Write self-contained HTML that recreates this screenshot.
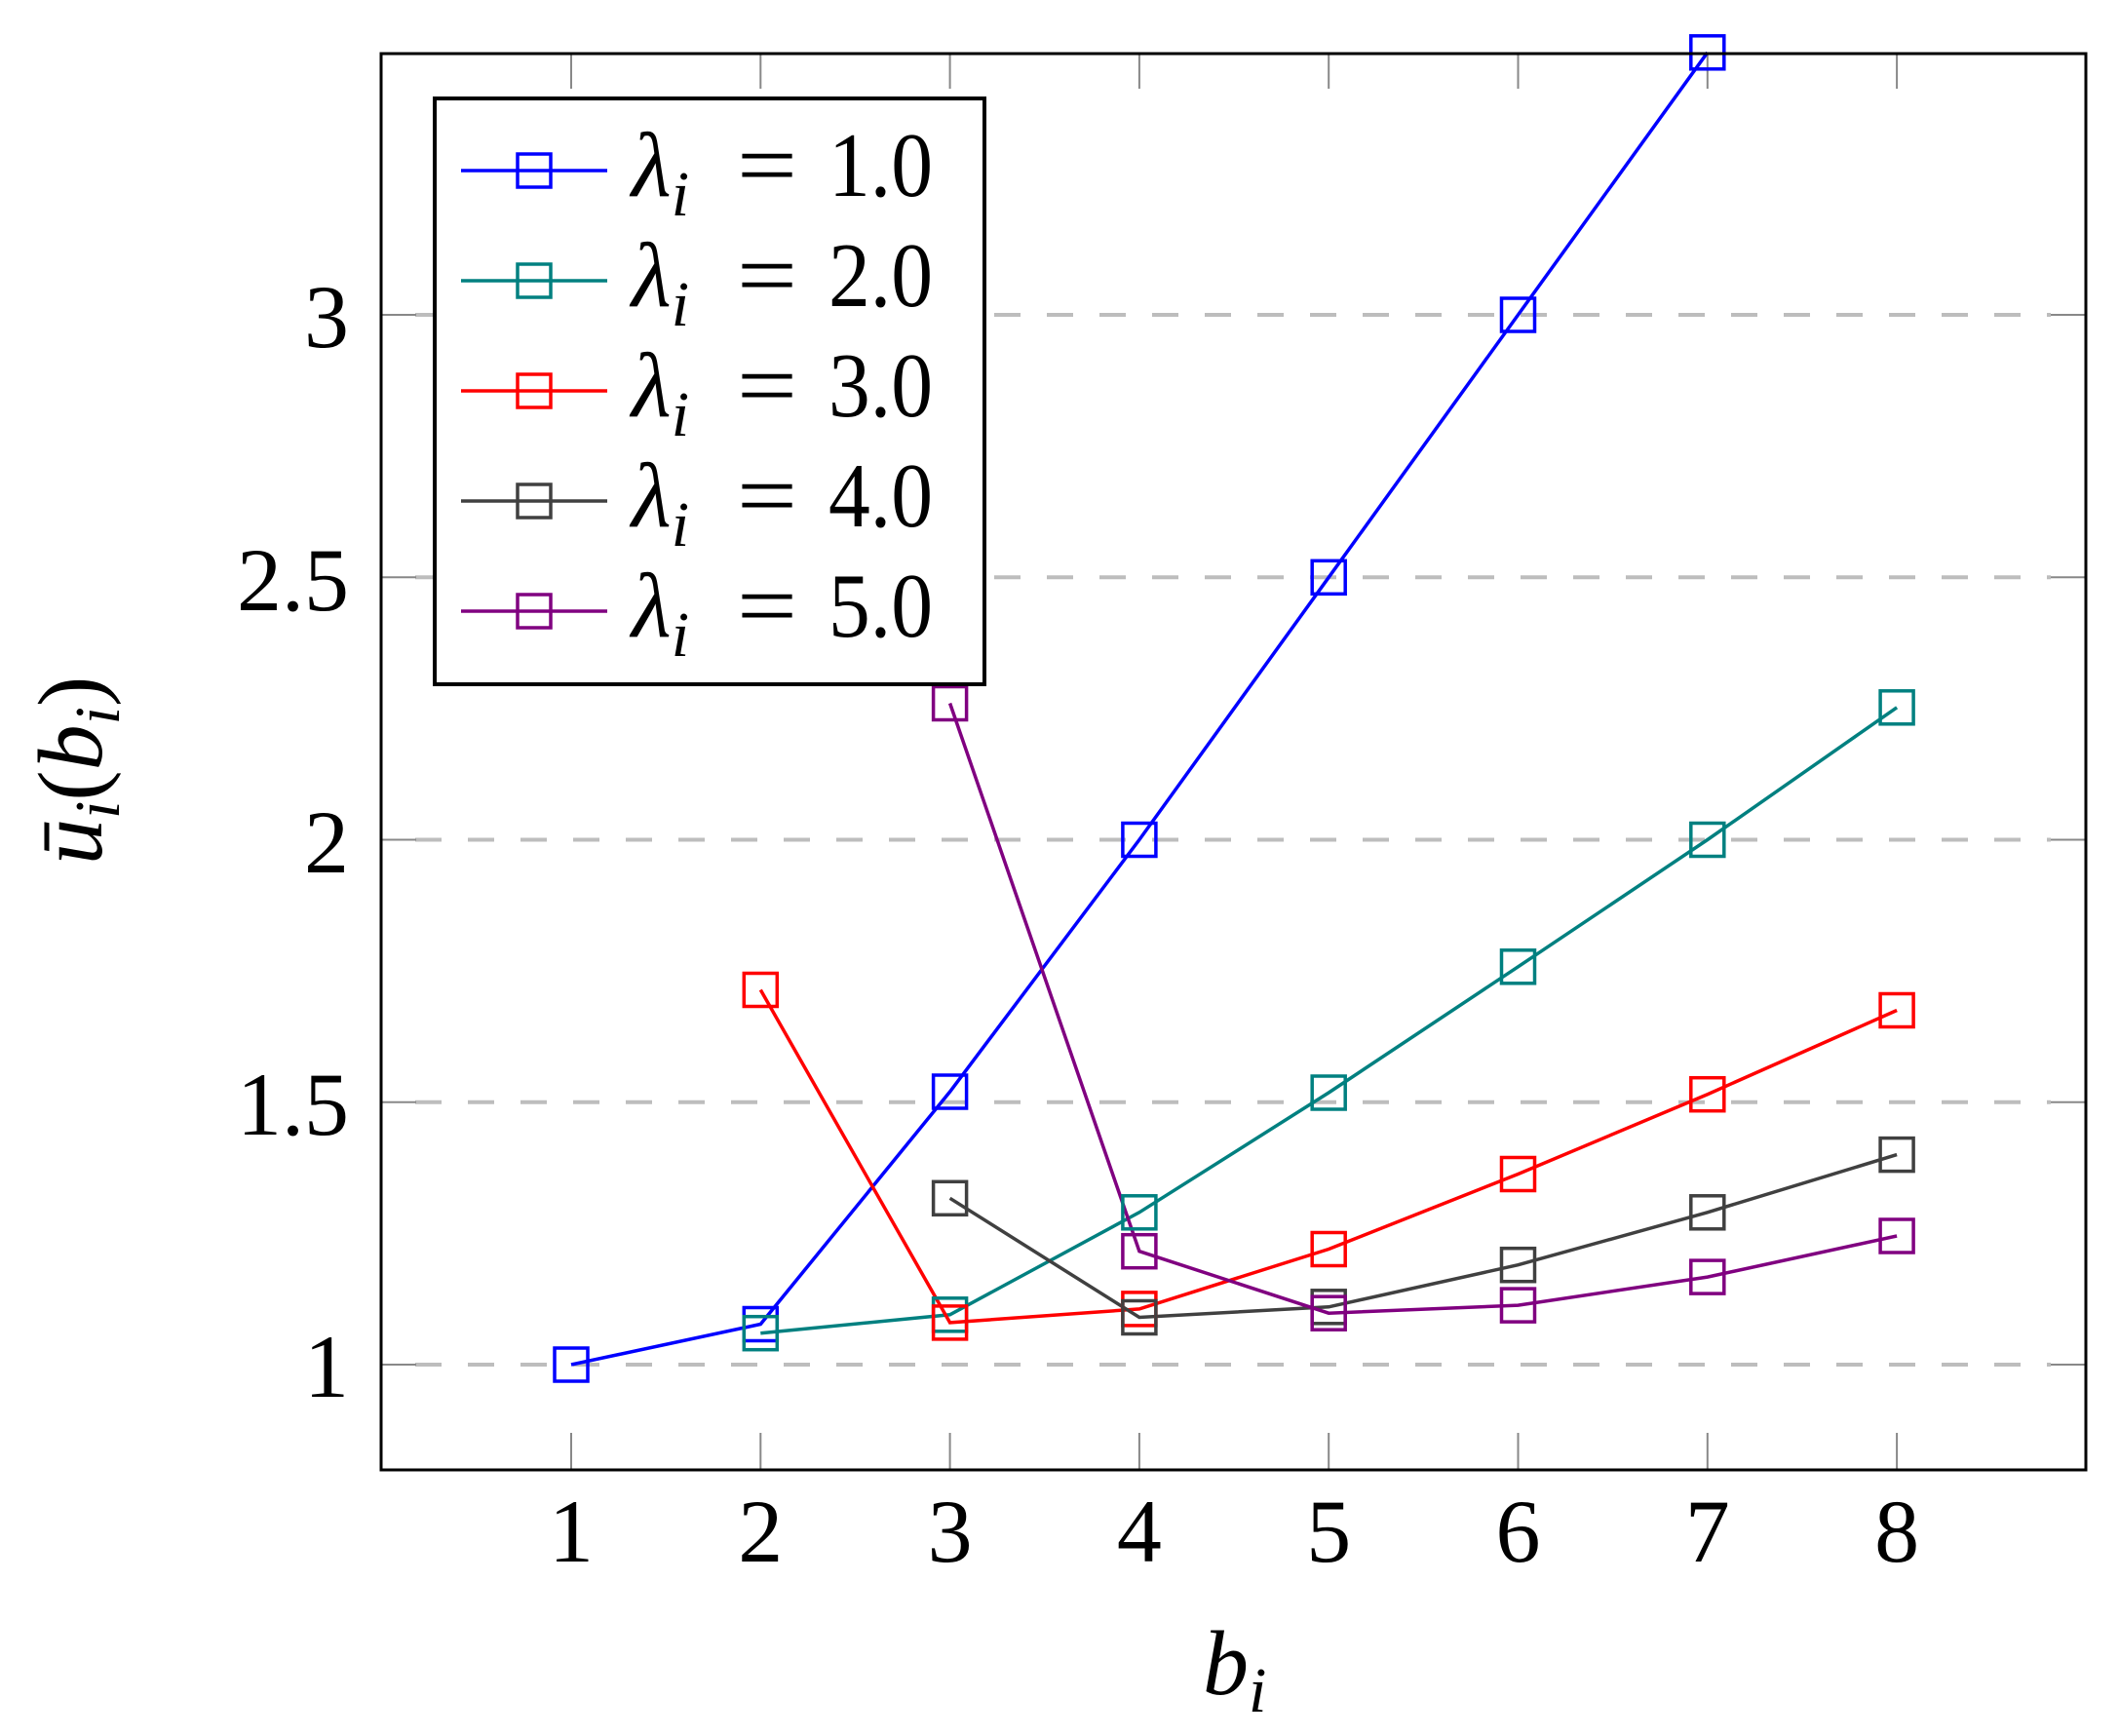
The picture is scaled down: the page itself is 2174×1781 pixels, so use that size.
<!DOCTYPE html>
<html><head><meta charset="utf-8"><style>html,body{margin:0;padding:0;background:#fff}svg{display:block}svg text{font-family:"Liberation Serif",serif}</style></head>
<body>
<svg width="2174" height="1781" viewBox="0 0 2174 1781" xmlns="http://www.w3.org/2000/svg" style="font-family:'Liberation Serif',serif">
<rect width="2174" height="1781" fill="#fff"/>
<g stroke="#bdbdbd" stroke-width="4" stroke-dasharray="27 27">
<line x1="426" y1="1400" x2="2104" y2="1400"/>
<line x1="426" y1="1130.8" x2="2104" y2="1130.8"/>
<line x1="426" y1="861.5" x2="2104" y2="861.5"/>
<line x1="426" y1="592.3" x2="2104" y2="592.3"/>
<line x1="426" y1="323" x2="2104" y2="323"/>
</g>
<g stroke="#888" stroke-width="2">
<line x1="391" y1="1400" x2="427" y2="1400"/><line x1="2104" y1="1400" x2="2140" y2="1400"/>
<line x1="391" y1="1130.8" x2="427" y2="1130.8"/><line x1="2104" y1="1130.8" x2="2140" y2="1130.8"/>
<line x1="391" y1="861.5" x2="427" y2="861.5"/><line x1="2104" y1="861.5" x2="2140" y2="861.5"/>
<line x1="391" y1="592.3" x2="427" y2="592.3"/><line x1="2104" y1="592.3" x2="2140" y2="592.3"/>
<line x1="391" y1="323" x2="427" y2="323"/><line x1="2104" y1="323" x2="2140" y2="323"/>
<line x1="586" y1="1470" x2="586" y2="1508"/><line x1="586" y1="55" x2="586" y2="91"/>
<line x1="780.3" y1="1470" x2="780.3" y2="1508"/><line x1="780.3" y1="55" x2="780.3" y2="91"/>
<line x1="974.6" y1="1470" x2="974.6" y2="1508"/><line x1="974.6" y1="55" x2="974.6" y2="91"/>
<line x1="1168.9" y1="1470" x2="1168.9" y2="1508"/><line x1="1168.9" y1="55" x2="1168.9" y2="91"/>
<line x1="1363.2" y1="1470" x2="1363.2" y2="1508"/><line x1="1363.2" y1="55" x2="1363.2" y2="91"/>
<line x1="1557.5" y1="1470" x2="1557.5" y2="1508"/><line x1="1557.5" y1="55" x2="1557.5" y2="91"/>
<line x1="1751.8" y1="1470" x2="1751.8" y2="1508"/><line x1="1751.8" y1="55" x2="1751.8" y2="91"/>
<line x1="1946.1" y1="1470" x2="1946.1" y2="1508"/><line x1="1946.1" y1="55" x2="1946.1" y2="91"/>
</g>
<g fill="none" stroke-width="3.5">
<polyline stroke="#0000ff" points="586,1400 780.3,1358.5 974.6,1120 1168.9,861.5 1363.2,592.3 1557.5,323 1751.8,53.8"/>
<polyline stroke="#008080" points="780.3,1367.7 974.6,1348.8 1168.9,1243.8 1363.2,1121 1557.5,991.8 1751.8,861.5 1946.1,725.8"/>
<polyline stroke="#ff0000" points="780.3,1015.5 974.6,1356.9 1168.9,1342.9 1363.2,1281.5 1557.5,1204.5 1751.8,1122.7 1946.1,1036.5"/>
<polyline stroke="#404040" points="974.6,1229.3 1168.9,1351.5 1363.2,1340.8 1557.5,1297.7 1751.8,1243.8 1946.1,1184.6"/>
<polyline stroke="#800080" points="974.6,721.5 1168.9,1283.7 1363.2,1347.2 1557.5,1339.1 1751.8,1310.1 1946.1,1268"/>
</g>
<g fill="none" stroke-width="3.5">
<g stroke="#0000ff">
<rect x="569" y="1383" width="34" height="34"/><rect x="763.3" y="1341.5" width="34" height="34"/><rect x="957.6" y="1103" width="34" height="34"/><rect x="1151.9" y="844.5" width="34" height="34"/><rect x="1346.2" y="575.3" width="34" height="34"/><rect x="1540.5" y="306" width="34" height="34"/><rect x="1734.8" y="36.8" width="34" height="34"/>
</g>
<g stroke="#008080">
<rect x="763.3" y="1350.7" width="34" height="34"/><rect x="957.6" y="1331.8" width="34" height="34"/><rect x="1151.9" y="1226.8" width="34" height="34"/><rect x="1346.2" y="1104" width="34" height="34"/><rect x="1540.5" y="974.8" width="34" height="34"/><rect x="1734.8" y="844.5" width="34" height="34"/><rect x="1929.1" y="708.8" width="34" height="34"/>
</g>
<g stroke="#ff0000">
<rect x="763.3" y="998.5" width="34" height="34"/><rect x="957.6" y="1339.9" width="34" height="34"/><rect x="1151.9" y="1325.9" width="34" height="34"/><rect x="1346.2" y="1264.5" width="34" height="34"/><rect x="1540.5" y="1187.5" width="34" height="34"/><rect x="1734.8" y="1105.7" width="34" height="34"/><rect x="1929.1" y="1019.5" width="34" height="34"/>
</g>
<g stroke="#404040">
<rect x="957.6" y="1212.3" width="34" height="34"/><rect x="1151.9" y="1334.5" width="34" height="34"/><rect x="1346.2" y="1323.8" width="34" height="34"/><rect x="1540.5" y="1280.7" width="34" height="34"/><rect x="1734.8" y="1226.8" width="34" height="34"/><rect x="1929.1" y="1167.6" width="34" height="34"/>
</g>
<g stroke="#800080">
<rect x="957.6" y="704.5" width="34" height="34"/><rect x="1151.9" y="1266.7" width="34" height="34"/><rect x="1346.2" y="1330.2" width="34" height="34"/><rect x="1540.5" y="1322.1" width="34" height="34"/><rect x="1734.8" y="1293.1" width="34" height="34"/><rect x="1929.1" y="1251" width="34" height="34"/>
</g>
</g>
<rect x="391" y="55" width="1749" height="1453" fill="none" stroke="#000" stroke-width="3"/>
<rect x="446" y="101" width="564" height="601" fill="#fff" stroke="#000" stroke-width="4"/>
<g stroke-width="3.5" fill="none">
<line x1="473" y1="175" x2="623" y2="175" stroke="#0000ff"/><rect x="531" y="158" width="34" height="34" stroke="#0000ff"/>
<line x1="473" y1="288" x2="623" y2="288" stroke="#008080"/><rect x="531" y="271" width="34" height="34" stroke="#008080"/>
<line x1="473" y1="401" x2="623" y2="401" stroke="#ff0000"/><rect x="531" y="384" width="34" height="34" stroke="#ff0000"/>
<line x1="473" y1="514" x2="623" y2="514" stroke="#404040"/><rect x="531" y="497" width="34" height="34" stroke="#404040"/>
<line x1="473" y1="627" x2="623" y2="627" stroke="#800080"/><rect x="531" y="610" width="34" height="34" stroke="#800080"/>
</g>
<g font-size="94" fill="#000">
<text x="648" y="201" font-style="italic">λ<tspan font-size="66" dy="20">i</tspan></text><text x="756" y="201" textLength="62" lengthAdjust="spacingAndGlyphs">=</text><text x="850" y="201" textLength="107" lengthAdjust="spacingAndGlyphs">1.0</text>
<text x="648" y="314" font-style="italic">λ<tspan font-size="66" dy="20">i</tspan></text><text x="756" y="314" textLength="62" lengthAdjust="spacingAndGlyphs">=</text><text x="850" y="314" textLength="107" lengthAdjust="spacingAndGlyphs">2.0</text>
<text x="648" y="427" font-style="italic">λ<tspan font-size="66" dy="20">i</tspan></text><text x="756" y="427" textLength="62" lengthAdjust="spacingAndGlyphs">=</text><text x="850" y="427" textLength="107" lengthAdjust="spacingAndGlyphs">3.0</text>
<text x="648" y="540" font-style="italic">λ<tspan font-size="66" dy="20">i</tspan></text><text x="756" y="540" textLength="62" lengthAdjust="spacingAndGlyphs">=</text><text x="850" y="540" textLength="107" lengthAdjust="spacingAndGlyphs">4.0</text>
<text x="648" y="653" font-style="italic">λ<tspan font-size="66" dy="20">i</tspan></text><text x="756" y="653" textLength="62" lengthAdjust="spacingAndGlyphs">=</text><text x="850" y="653" textLength="107" lengthAdjust="spacingAndGlyphs">5.0</text>
</g>
<g font-size="92" fill="#000" text-anchor="end">
<text x="358" y="1433">1</text>
<text x="358" y="1164">1.5</text>
<text x="358" y="895">2</text>
<text x="358" y="626">2.5</text>
<text x="358" y="356">3</text>
</g>
<g font-size="92" fill="#000" text-anchor="middle">
<text x="586" y="1602">1</text><text x="780.3" y="1602">2</text><text x="974.6" y="1602">3</text><text x="1168.9" y="1602">4</text>
<text x="1363.2" y="1602">5</text><text x="1557.5" y="1602">6</text><text x="1751.8" y="1602">7</text><text x="1946.1" y="1602">8</text>
</g>
<text x="1234" y="1738" font-size="94" font-style="italic">b<tspan font-size="66" dy="18">i</tspan></text>
<text transform="translate(104,887) rotate(-90)" font-size="94" font-style="italic">ū<tspan font-size="66" dy="18">i</tspan><tspan dy="-18" font-style="normal">(</tspan>b<tspan font-size="66" dy="18">i</tspan><tspan dy="-18" font-style="normal">)</tspan></text>
</svg>
</body></html>
